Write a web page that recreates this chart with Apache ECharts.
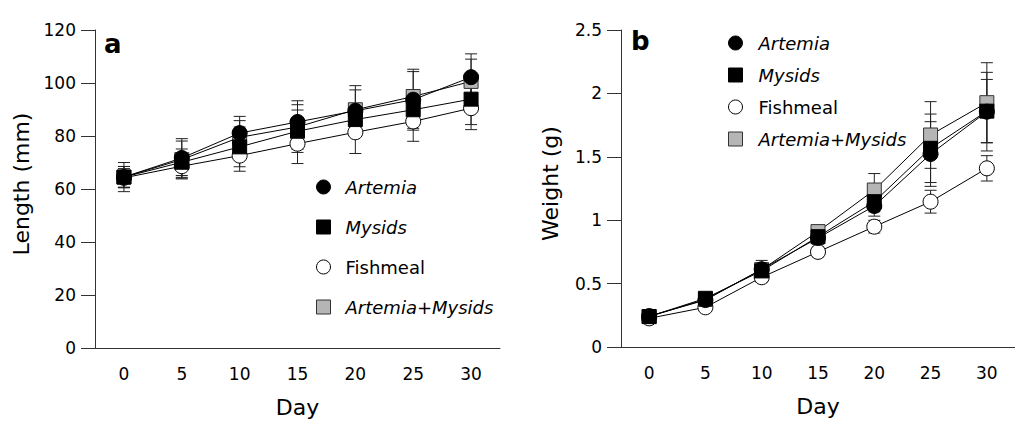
<!DOCTYPE html>
<html>
<head>
<meta charset="utf-8">
<script src="https://cdn.jsdelivr.net/npm/echarts@6/dist/echarts.min.js"></script>
<style>
html,body{margin:0;padding:0;background:#fff;}
#chart{width:1015px;height:423px;}
</style>
</head>
<body>
<div id="chart"></div>
<script>
// ---- Data ----
const days = ['0', '5', '10', '15', '20', '25', '30'];
const seriesNames = ['Artemia', 'Mysids', 'Fishmeal', 'Artemia+Mysids'];

// Panel a: Length (mm)
const lenArtemia   = [64.5, 71.7, 81.1, 85.3, 89.5, 93.7, 102.2];
const lenMysids    = [64.5, 70.1, 75.9, 81.8, 86.2, 89.9, 93.9];
const lenFishmeal  = [64.2, 68.6, 72.6, 77.1, 81.4, 85.5, 90.5];
const lenArtMys    = [64.5, 71.1, 79.5, 83.4, 89.9, 94.9, 100.6];
const lenSdArtemia  = [5.5, 7.3, 6.3, 8.0, 9.5, 11.5, 8.8];
const lenSdMysids   = [4.0, 5.0, 7.5, 8.0, 6.0, 7.0, 9.6];
const lenSdFishmeal = [3.5, 4.8, 5.9, 7.5, 8.0, 7.5, 8.1];
const lenSdArtMys   = [4.0, 7.0, 6.3, 8.4, 7.5, 9.4, 8.4];

// Panel b: Weight (g)
const wArtemia   = [0.244, 0.370, 0.613, 0.860, 1.112, 1.522, 1.856];
const wMysids    = [0.240, 0.384, 0.600, 0.870, 1.146, 1.567, 1.860];
const wFishmeal  = [0.226, 0.313, 0.550, 0.750, 0.949, 1.146, 1.409];
const wArtMys    = [0.240, 0.375, 0.610, 0.910, 1.238, 1.672, 1.927];
const wSdArtemia  = [0.02, 0.03, 0.07, 0.05, 0.08, 0.255, 0.31];
const wSdMysids   = [0.02, 0.03, 0.05, 0.05, 0.08, 0.27, 0.25];
const wSdFishmeal = [0.02, 0.02, 0.04, 0.04, 0.05, 0.09, 0.10];
const wSdArtMys   = [0.02, 0.03, 0.05, 0.05, 0.13, 0.263, 0.315];

// ---- Styles ----
const FONT = 'DejaVu Sans';
const AXIS_COLOR = '#333';
const markerStyle = {
  'Artemia':        {symbol: 'circle', size: 15, color: '#000', border: '#000'},
  'Mysids':         {symbol: 'rect',   size: 14, color: '#000', border: '#000'},
  'Fishmeal':       {symbol: 'circle', size: 15, color: '#fff', border: '#000'},
  'Artemia+Mysids': {symbol: 'rect',   size: 14, color: '#b5b5b5', border: '#333'}
};

function errRender(params, api) {
  const x = api.value(0);
  const pHi = api.coord([x, api.value(2)]);
  const pLo = api.coord([x, api.value(1)]);
  const w = 6;
  const st = {stroke: '#222', lineWidth: 1};
  return {
    type: 'group',
    children: [
      {type: 'line', shape: {x1: pHi[0], y1: pHi[1], x2: pLo[0], y2: pLo[1]}, style: st},
      {type: 'line', shape: {x1: pHi[0] - w, y1: pHi[1], x2: pHi[0] + w, y2: pHi[1]}, style: st},
      {type: 'line', shape: {x1: pLo[0] - w, y1: pLo[1], x2: pLo[0] + w, y2: pLo[1]}, style: st}
    ]
  };
}

function errSeries(name, means, sds, gi) {
  return {
    type: 'custom', name: name + ' SD', xAxisIndex: gi, yAxisIndex: gi, z: 1,
    renderItem: errRender, silent: true,
    encode: {x: 0, y: [1, 2]},
    data: means.map((m, i) => [i, m - sds[i], m + sds[i]])
  };
}

function lineSeries(name, means, gi) {
  const m = markerStyle[name];
  return {
    type: 'line', name: name, xAxisIndex: gi, yAxisIndex: gi, z: 3,
    data: means, symbol: m.symbol, symbolSize: m.size, showSymbol: true,
    lineStyle: {color: '#000', width: 1},
    itemStyle: {color: m.color, borderColor: m.border, borderWidth: 1, opacity: 1},
    emphasis: {disabled: true}
  };
}

function legendData() {
  return seriesNames.map(n => ({
    name: n,
    icon: markerStyle[n].symbol,
    itemStyle: {color: markerStyle[n].color, borderColor: markerStyle[n].border, borderWidth: 1},
    textStyle: {fontStyle: n === 'Fishmeal' ? 'normal' : 'italic'}
  }));
}

function xAxisCfg(gi) {
  return {
    type: 'category', gridIndex: gi, data: days, boundaryGap: true,
    name: 'Day', nameLocation: 'middle', nameGap: 48,
    nameTextStyle: {fontFamily: FONT, fontSize: 22, color: '#000'},
    axisLine: {lineStyle: {color: AXIS_COLOR, width: 1}},
    axisTick: {length: 12, inside: false, alignWithLabel: false, interval: 0, lineStyle: {color: AXIS_COLOR}},
    axisLabel: {fontFamily: FONT, fontSize: 17, color: '#000', margin: 17, interval: 0},
    splitLine: {show: false}
  };
}

function yAxisCfg(gi, name, max, interval, gap) {
  return {
    type: 'value', gridIndex: gi, min: 0, max: max, interval: interval,
    name: name, nameLocation: 'middle', nameGap: gap, nameRotate: 90,
    nameTextStyle: {fontFamily: FONT, fontSize: 22, color: '#000', padding: [0, 0, 0, 10]},
    axisLine: {show: true, lineStyle: {color: AXIS_COLOR, width: 1}},
    axisTick: {show: true, length: 14, inside: false, lineStyle: {color: AXIS_COLOR}},
    axisLabel: {fontFamily: FONT, fontSize: 17, color: '#000', margin: 19},
    splitLine: {show: false}
  };
}

const chart = echarts.init(document.getElementById('chart'), null, {renderer: 'svg'});
chart.setOption({
  animation: false,
  backgroundColor: '#fff',
  grid: [
    {left: 95, top: 30, width: 405, height: 319},
    {left: 621, top: 30, width: 405, height: 317}
  ],
  xAxis: [xAxisCfg(0), xAxisCfg(1)],
  yAxis: [
    yAxisCfg(0, 'Length (mm)', 120, 20, 63),
    yAxisCfg(1, 'Weight (g)', 2.5, 0.5, 60)
  ],
  legend: [
    {
      data: legendData(), orient: 'vertical', left: 316, top: 177, padding: 0,
      itemWidth: 14, itemHeight: 14, itemGap: 20, selectedMode: false,
      textStyle: {fontFamily: FONT, fontSize: 18, color: '#000', lineHeight: 20, padding: [0, 0, 0, 10]}
    },
    {
      data: legendData(), orient: 'vertical', left: 728, top: 33, padding: 0,
      itemWidth: 14, itemHeight: 14, itemGap: 12, selectedMode: false,
      textStyle: {fontFamily: FONT, fontSize: 18, color: '#000', lineHeight: 20, padding: [0, 0, 0, 11]}
    }
  ],
  graphic: [
    {type: 'text', left: 104, top: 31, style: {text: 'a', font: 'bold 26px "DejaVu Sans"', fill: '#000'}},
    {type: 'text', left: 631, top: 28, style: {text: 'b', font: 'bold 26px "DejaVu Sans"', fill: '#000'}}
  ],
  series: [
    errSeries('Fishmeal', lenFishmeal, lenSdFishmeal, 0),
    errSeries('Artemia+Mysids', lenArtMys, lenSdArtMys, 0),
    errSeries('Mysids', lenMysids, lenSdMysids, 0),
    errSeries('Artemia', lenArtemia, lenSdArtemia, 0),
    lineSeries('Fishmeal', lenFishmeal, 0),
    lineSeries('Artemia+Mysids', lenArtMys, 0),
    lineSeries('Mysids', lenMysids, 0),
    lineSeries('Artemia', lenArtemia, 0),
    errSeries('Fishmeal', wFishmeal, wSdFishmeal, 1),
    errSeries('Artemia+Mysids', wArtMys, wSdArtMys, 1),
    errSeries('Mysids', wMysids, wSdMysids, 1),
    errSeries('Artemia', wArtemia, wSdArtemia, 1),
    lineSeries('Fishmeal', wFishmeal, 1),
    lineSeries('Artemia+Mysids', wArtMys, 1),
    lineSeries('Mysids', wMysids, 1),
    lineSeries('Artemia', wArtemia, 1)
  ]
});
</script>
</body>
</html>
